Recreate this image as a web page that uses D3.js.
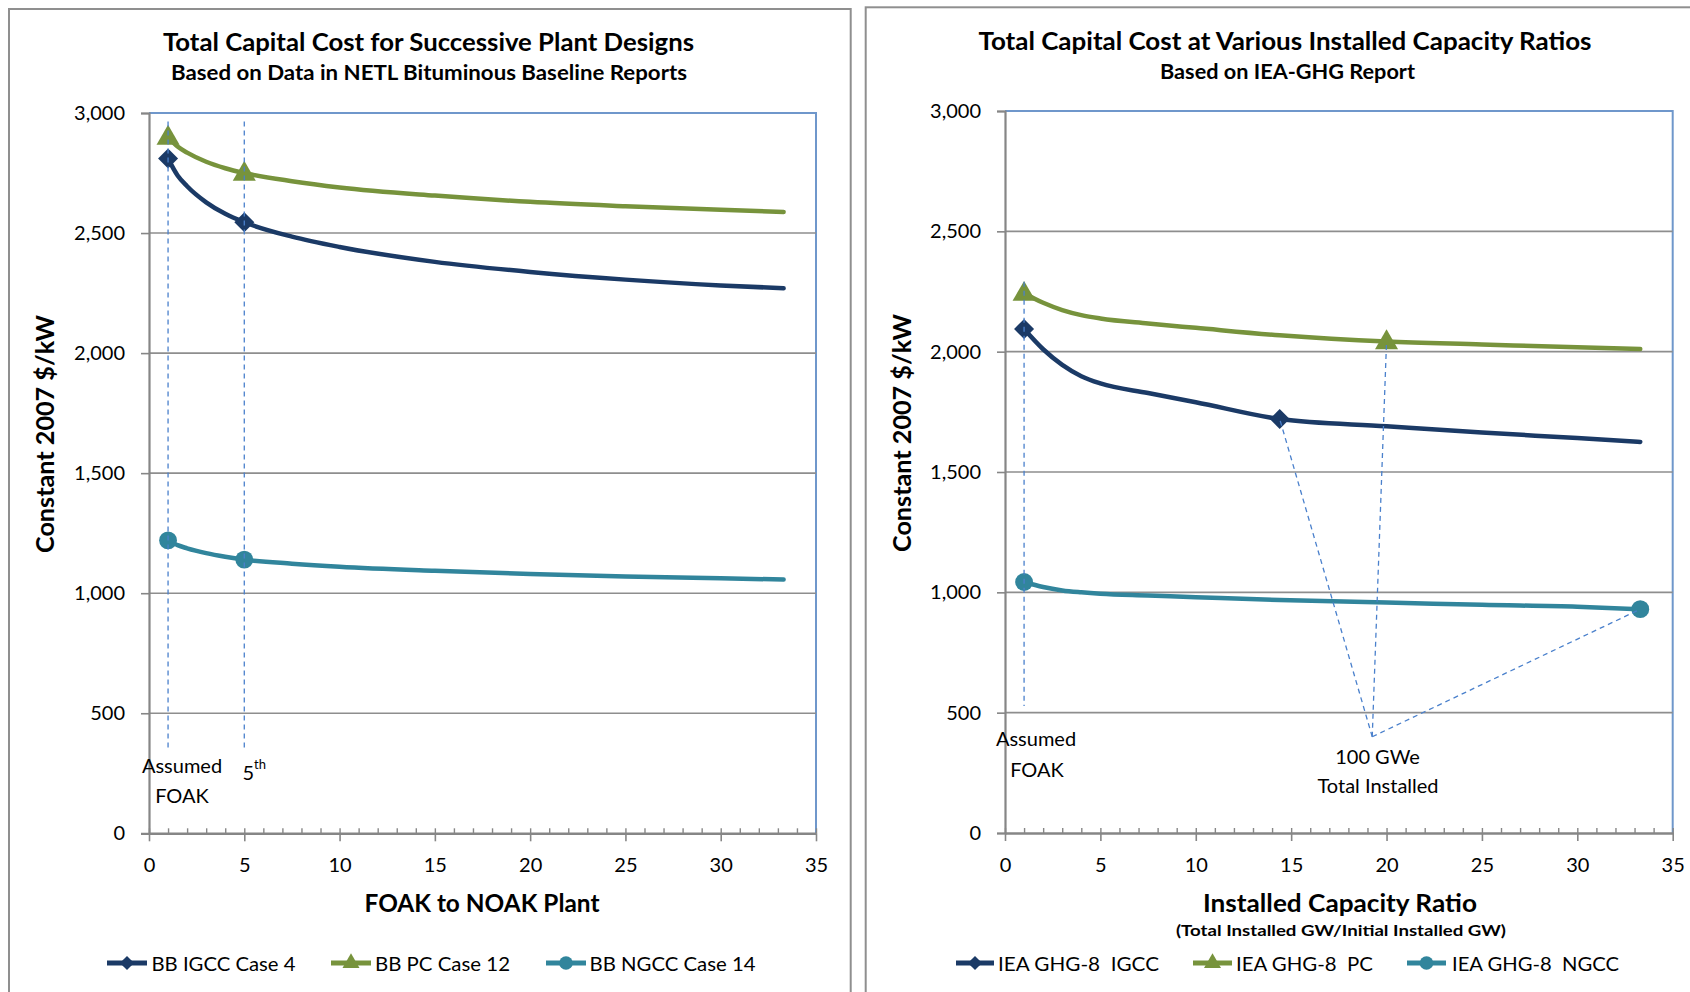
<!DOCTYPE html>
<html><head><meta charset="utf-8">
<script src="https://cdn.jsdelivr.net/npm/d3@7"></script>
<style>
body{margin:0;background:#fff;}
svg{display:block;font-family:Lato,"Open Sans",sans-serif;}
text{white-space:pre;}
</style>
</head><body>
<svg id="chart" width="1690" height="992"></svg>
<script>
// ---------- DATA ----------
const xTickValues = [0, 5, 10, 15, 20, 25, 30, 35];
const yTickValues = [0, 500, 1000, 1500, 2000, 2500, 3000];
const yTickLabels = ["0", "500", "1,000", "1,500", "2,000", "2,500", "3,000"];

// Left chart: FOAK to NOAK plant number
const leftX    = [1, 1.5, 2, 3, 4, 5, 7.5, 10, 15, 20, 25, 30, 33.3];
const leftIGCC = [2810, 2740, 2695, 2628, 2580, 2545, 2485, 2442, 2380, 2338, 2306, 2282, 2270];
const leftPC   = [2900, 2860, 2835, 2797, 2770, 2750, 2716, 2690, 2656, 2630, 2612, 2597, 2588];
const leftNGCC = [1220, 1200, 1187, 1167, 1152, 1140, 1123, 1110, 1093, 1080, 1070, 1062, 1057];
const leftMarkersIGCC = [1, 5];
const leftMarkersPC   = [1, 5];
const leftMarkersNGCC = [1, 5];
const leftNames = ["BB IGCC Case 4", "BB PC Case 12", "BB NGCC Case 14"];

// Right chart: installed capacity ratio
const rightX    = [1, 2, 3, 4, 5, 7.5, 10, 14.4, 20, 25, 30, 33.3];
const rightIGCC = [2094, 2010, 1945, 1898, 1868, 1828, 1790, 1720, 1690, 1664, 1641, 1625];
const rightPC   = [2243, 2203, 2173, 2152, 2138, 2117, 2099, 2068, 2042, 2030, 2018, 2011];
const rightNGCC = [1043, 1022, 1008, 1000, 994, 987, 980, 968, 958, 948, 940, 930];
const rightMarkersIGCC = [1, 14.4];
const rightMarkersPC   = [1, 20];
const rightMarkersNGCC = [1, 33.3];
const rightNames = ["IEA GHG-8  IGCC", "IEA GHG-8  PC", "IEA GHG-8  NGCC"];

// annotation lines (data coordinates)
const leftGuideX = [1, 5];
const leftGuideRange = [343, 2965];
const rightGuideX = [1];
const rightGuideRange = [528, 2290];
const rightApex = [19.25, 400];
const rightApexTargets = [[14.4, 1720], [20, 2042], [33.3, 930]];

// ---------- STYLE ----------
const colIGCC = "#1b3a66", colPC = "#77933c", colNGCC = "#31859c";
const gridCol = "#8e8e8e", axisCol = "#868686", plotEdge = "#6f97cb", guideCol = "#4a80cc";

const svg = d3.select("#chart");

function addText(g, x, y, s, o = {}) {
  const t = g.append("text").attr("x", x).attr("y", y)
    .attr("text-anchor", o.anchor || "middle")
    .attr("dominant-baseline", "central")
    .attr("font-size", o.size || 20)
    .attr("font-weight", o.bold ? 700 : 400)
    .attr("fill", o.fill || "#000")
    .text(s);
  if (o.w) t.attr("textLength", o.w).attr("lengthAdjust", "spacingAndGlyphs");
  if (o.rotate) t.attr("transform", `rotate(${o.rotate},${x},${y})`);
  return t;
}

function marker(kind, large) {
  if (kind === "diamond") return { sym: d3.symbolSquare, size: large ? 200 : 100, rot: 45 };
  if (kind === "triangle") return { sym: d3.symbolTriangle, size: large ? 230 : 125, rot: 0 };
  return { sym: d3.symbolCircle, size: large ? 250 : 145, rot: 0 };
}

function drawPanel(cfg) {
  const g = svg.append("g");
  // panel border
  g.append("rect").attr("x", cfg.border[0]).attr("y", cfg.border[1])
    .attr("width", cfg.border[2]).attr("height", cfg.border[3])
    .attr("fill", "#fff").attr("stroke", "#8f8f8f").attr("stroke-width", 2);

  const x = d3.scaleLinear().domain([0, 35]).range([cfg.px0, cfg.px1]);
  const y = d3.scaleLinear().domain([0, 3000]).range([cfg.py0, cfg.py1]);

  // plot area edges (top, right)
  g.append("path")
    .attr("d", `M${x(0)},${y(3000)}H${x(35)}V${y(0)}`)
    .attr("fill", "none").attr("stroke", plotEdge).attr("stroke-width", 2);

  // gridlines
  g.append("g").selectAll("line").data(yTickValues.filter(v => v > 0 && v < 3000)).join("line")
    .attr("x1", x(0)).attr("x2", x(35)).attr("y1", d => y(d)).attr("y2", d => y(d))
    .attr("stroke", gridCol).attr("stroke-width", 1.6);

  // y axis
  const ya = g.append("g").attr("transform", `translate(${x(0)},0)`)
    .call(d3.axisLeft(y).tickValues(yTickValues).tickSize(8).tickPadding(16)
      .tickFormat((d, i) => yTickLabels[i]));
  ya.select(".domain").attr("stroke", axisCol).attr("stroke-width", 2.2);
  ya.selectAll(".tick line").attr("stroke", axisCol).attr("stroke-width", 1.6);
  ya.selectAll(".tick text").attr("font-size", 20).attr("font-family", "Lato").attr("fill", "#000");

  // x axis minor ticks (upward)
  const xm = g.append("g").attr("transform", `translate(0,${y(0)})`)
    .call(d3.axisBottom(x).tickValues(d3.range(0, 36, 1)).tickSize(-5).tickFormat(""));
  xm.select(".domain").remove();
  xm.selectAll(".tick line").attr("stroke", axisCol).attr("stroke-width", 1.4);
  // x axis major
  const xa = g.append("g").attr("transform", `translate(0,${y(0)})`)
    .call(d3.axisBottom(x).tickValues(xTickValues).tickSize(8).tickPadding(17).tickSizeOuter(0));
  xa.select(".domain").attr("stroke", axisCol).attr("stroke-width", 2.6);
  xa.selectAll(".tick line").attr("stroke", axisCol).attr("stroke-width", 1.6);
  xa.selectAll(".tick text").attr("font-size", 20).attr("font-family", "Lato").attr("fill", "#000");

  // series
  const line = d3.line().x(d => x(d[0])).y(d => y(d[1])).curve(d3.curveMonotoneX);
  cfg.series.forEach(s => {
    const pts = cfg.xs.map((xv, i) => [xv, s.values[i]]);
    g.append("path").datum(pts).attr("d", line)
      .attr("fill", "none").attr("stroke", s.color).attr("stroke-width", 4.5)
      .attr("stroke-linecap", "round").attr("stroke-linejoin", "round");
  });
  cfg.series.forEach(s => {
    const m = marker(s.marker, true);
    const pts = s.markers.map(mx => [mx, s.values[cfg.xs.indexOf(mx)]]);
    g.append("g").selectAll("path").data(pts).join("path")
      .attr("d", d3.symbol().type(m.sym).size(m.size))
      .attr("transform", d => `translate(${x(d[0])},${y(d[1]) + (s.marker === "triangle" ? 1 : 0)}) rotate(${m.rot})`)
      .attr("fill", s.color);
  });

  // guide lines
  const guides = g.append("g").attr("fill", "none").attr("stroke", guideCol)
    .attr("stroke-width", 1.3).attr("stroke-dasharray", "5,4");
  cfg.guideX.forEach(gx => {
    guides.append("line").attr("x1", x(gx)).attr("x2", x(gx))
      .attr("y1", y(cfg.guideRange[1])).attr("y2", y(cfg.guideRange[0]));
  });
  if (cfg.apex) {
    cfg.apexTargets.forEach(t => {
      guides.append("line").attr("x1", x(cfg.apex[0])).attr("y1", y(cfg.apex[1]))
        .attr("x2", x(t[0])).attr("y2", y(t[1]));
    });
  }

  // titles
  addText(g, cfg.title[1], cfg.title[2], cfg.title[0], { bold: true, size: 24, w: cfg.title[3] });
  addText(g, cfg.sub[1], cfg.sub[2], cfg.sub[0], { bold: true, size: 20, w: cfg.sub[3] });
  addText(g, cfg.ytitle[1], cfg.ytitle[2], "Constant 2007 $/kW", { bold: true, size: 24, w: 238, rotate: -90 });
  addText(g, cfg.xtitle[1], cfg.xtitle[2], cfg.xtitle[0], { bold: true, size: 24, w: cfg.xtitle[3] });
  if (cfg.xsub) addText(g, cfg.xsub[1], cfg.xsub[2], cfg.xsub[0], { bold: true, size: 16, w: cfg.xsub[3] });

  // legend
  cfg.legend.forEach((L, i) => {
    const s = cfg.series[i];
    const lg = g.append("g");
    lg.append("line").attr("x1", L[0]).attr("x2", L[1]).attr("y1", cfg.legendY).attr("y2", cfg.legendY)
      .attr("stroke", s.color).attr("stroke-width", 5);
    const m = marker(s.marker, false);
    lg.append("path").attr("d", d3.symbol().type(m.sym).size(m.size)())
      .attr("transform", `translate(${(L[0] + L[1]) / 2},${cfg.legendY}) rotate(${m.rot})`)
      .attr("fill", s.color);
    addText(lg, L[2], cfg.legendY, s.name, { anchor: "start", size: 20, w: L[3] });
  });

  // annotations
  cfg.notes.forEach(n => {
    const t = addText(g, n[1], n[2], n[0], { size: 20, anchor: n[3] || "middle" });
    if (n[4]) t.append("tspan").attr("font-size", 13).attr("baseline-shift", "super").text(n[4]);
  });
}

drawPanel({
  border: [9, 9, 841.7, 1010],
  px0: 149, px1: 816, py0: 833.3, py1: 113,
  xs: leftX,
  series: [
    { name: leftNames[0], values: leftIGCC, color: colIGCC, marker: "diamond", markers: leftMarkersIGCC },
    { name: leftNames[1], values: leftPC, color: colPC, marker: "triangle", markers: leftMarkersPC },
    { name: leftNames[2], values: leftNGCC, color: colNGCC, marker: "circle", markers: leftMarkersNGCC }
  ],
  guideX: leftGuideX, guideRange: leftGuideRange,
  title: ["Total Capital Cost for Successive Plant Designs", 428.5, 41, 531],
  sub: ["Based on Data in NETL Bituminous Baseline Reports", 429, 72, 516],
  ytitle: [null, 44, 434],
  xtitle: ["FOAK to NOAK Plant", 482, 902, 235],
  legendY: 963,
  legend: [[107, 147, 151.5, 144], [331, 371, 375, 135], [546, 586, 589.5, 166]],
  notes: [["Assumed", 182, 765], ["FOAK", 182, 795], ["5", 242.5, 772, "start", "th"]]
});

drawPanel({
  border: [865.7, 7.3, 900, 1010],
  px0: 1005, px1: 1672.7, py0: 833, py1: 111,
  xs: rightX,
  series: [
    { name: rightNames[0], values: rightIGCC, color: colIGCC, marker: "diamond", markers: rightMarkersIGCC },
    { name: rightNames[1], values: rightPC, color: colPC, marker: "triangle", markers: rightMarkersPC },
    { name: rightNames[2], values: rightNGCC, color: colNGCC, marker: "circle", markers: rightMarkersNGCC }
  ],
  guideX: rightGuideX, guideRange: rightGuideRange,
  apex: rightApex, apexTargets: rightApexTargets,
  title: ["Total Capital Cost at Various Installed Capacity Ratios", 1285, 40, 613],
  sub: ["Based on IEA-GHG Report", 1287.5, 71, 255],
  ytitle: [null, 901, 433],
  xtitle: ["Installed Capacity Ratio", 1340, 902, 274],
  xsub: ["(Total Installed GW/Initial Installed GW)", 1341, 929, 330],
  legendY: 963,
  legend: [[956, 994, 998, 161], [1193, 1232, 1236, 137], [1407, 1446, 1452, 167]],
  notes: [["Assumed", 1036, 738], ["FOAK", 1037, 768.5], ["100 GWe", 1377.5, 755.5], ["Total Installed", 1378, 784.5]]
});
</script>
</body></html>
